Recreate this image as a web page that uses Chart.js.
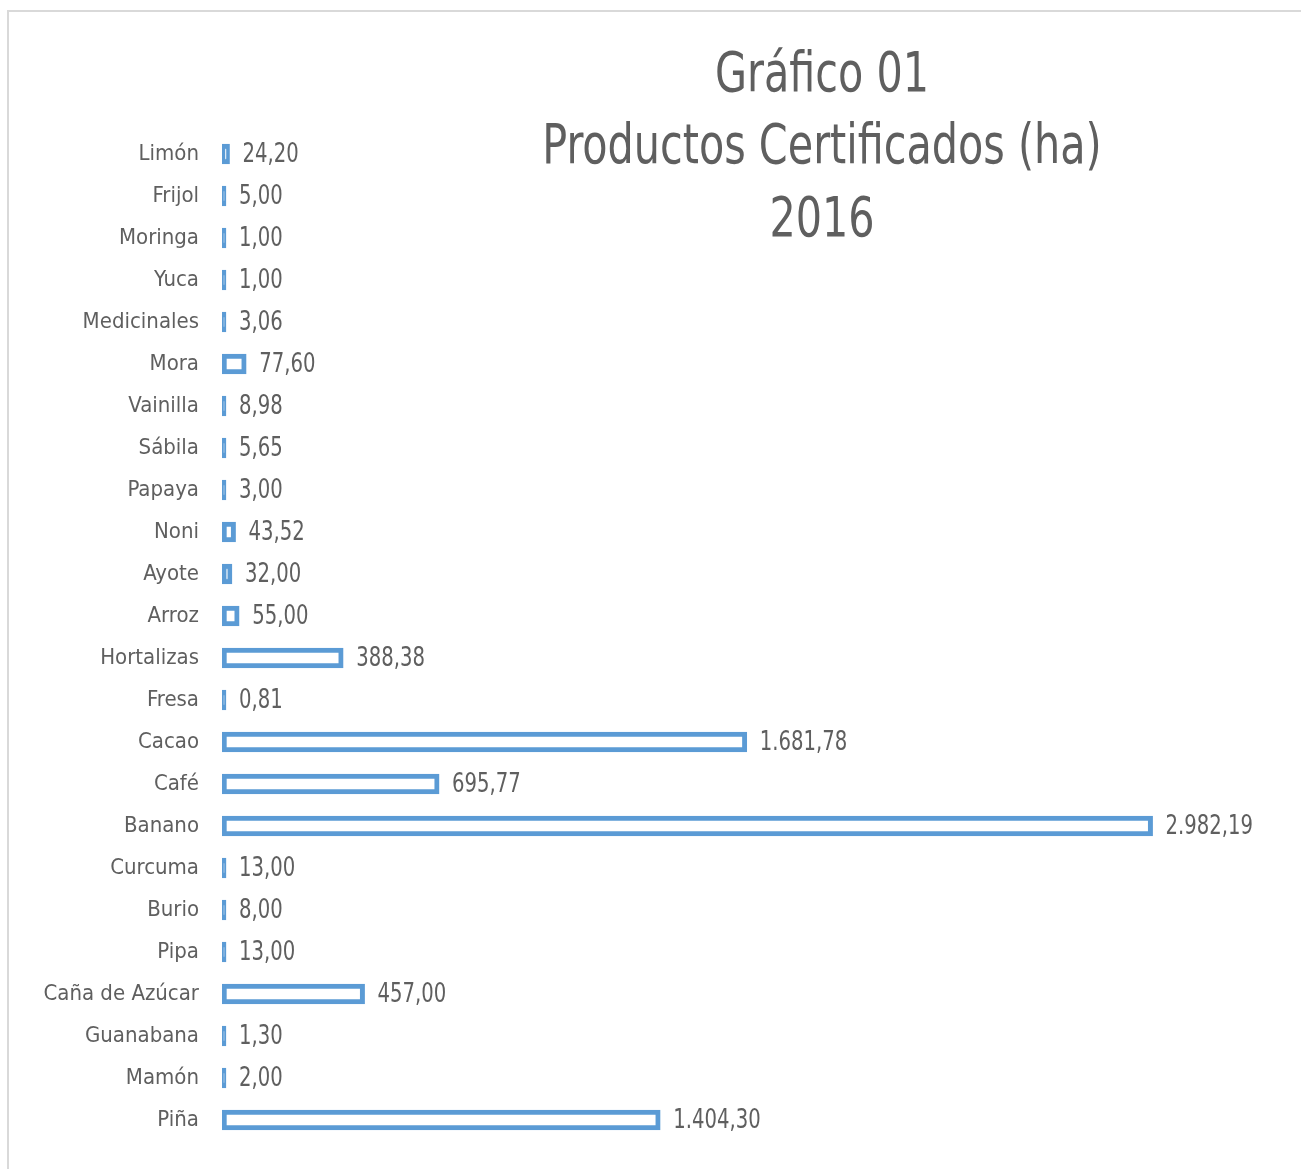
<!DOCTYPE html>
<html>
<head>
<meta charset="utf-8">
<script src="https://cdn.jsdelivr.net/npm/chart.js@4/dist/chart.umd.min.js"></script>
<style>
  html, body { margin: 0; padding: 0; background: #fff; overflow: hidden; }
  #wrap { position: relative; width: 1301px; height: 1169px; }
  #frame { position: absolute; left: 7px; top: 10px; width: 1400px; height: 1300px; border: 2px solid #d9d9d9; box-sizing: border-box; }
  canvas { position: absolute; left: 0; top: 0; }
</style>
</head>
<body>
<div id="wrap">
  <div id="frame"></div>
  <canvas id="barChart" width="1301" height="1169"></canvas>
</div>
<script>
const titleLines = ['Gráfico 01', 'Productos Certificados (ha)', '2016'];

const products = ['Limón', 'Frijol', 'Moringa', 'Yuca', 'Medicinales', 'Mora', 'Vainilla', 'Sábila',
  'Papaya', 'Noni', 'Ayote', 'Arroz', 'Hortalizas', 'Fresa', 'Cacao', 'Café', 'Banano', 'Curcuma',
  'Burio', 'Pipa', 'Caña de Azúcar', 'Guanabana', 'Mamón', 'Piña'];

const hectares = [24.20, 5.00, 1.00, 1.00, 3.06, 77.60, 8.98, 5.65, 3.00, 43.52, 32.00, 55.00,
  388.38, 0.81, 1681.78, 695.77, 2982.19, 13.00, 8.00, 13.00, 457.00, 1.30, 2.00, 1404.30];

const FONT = "'DejaVu Sans Condensed', 'DejaVu Sans', sans-serif";
const GREY = '#5f5f5f';
const BLUE = '#5B9BD5';
const SQUEEZE = 0.84; // text in the original is tall and narrow

// 1.234,56 style
function fmt(v) {
  const parts = v.toFixed(2).split('.');
  return parts[0].replace(/\B(?=(\d{3})+(?!\d))/g, '.') + ',' + parts[1];
}

// value labels at the end of each bar
const valueLabels = {
  id: 'valueLabels',
  afterDatasetsDraw(chart) {
    const ctx = chart.ctx;
    const meta = chart.getDatasetMeta(0);
    ctx.save();
    ctx.font = '26px ' + FONT;
    ctx.fillStyle = GREY;
    ctx.textAlign = 'left';
    ctx.textBaseline = 'middle';
    meta.data.forEach((bar, i) => {
      ctx.save();
      ctx.translate(bar.x + 13, bar.y + 1);
      ctx.scale(SQUEEZE, 1);
      ctx.fillText(fmt(hectares[i]), 0, 0);
      ctx.restore();
    });
    ctx.restore();
  }
};

// title sits over the chart area on the right
const floatingTitle = {
  id: 'floatingTitle',
  afterDraw(chart) {
    const ctx = chart.ctx;
    ctx.save();
    ctx.font = '56px ' + FONT;
    ctx.fillStyle = GREY;
    ctx.textAlign = 'center';
    ctx.textBaseline = 'middle';
    titleLines.forEach((t, i) => {
      ctx.save();
      ctx.translate(822, 76 + i * 72.5);
      ctx.scale(0.82, 1);
      ctx.fillText(t, 0, 0);
      ctx.restore();
    });
    ctx.restore();
  }
};

new Chart(document.getElementById('barChart').getContext('2d'), {
  type: 'bar',
  data: {
    labels: products,
    datasets: [{
      data: hectares,
      // the thinnest bars are just a solid stub of outline
      backgroundColor: (c) => (c.raw < 15 ? BLUE : '#ffffff'),
      borderColor: BLUE,
      borderWidth: 5,
      borderSkipped: false,
      barThickness: 20,
      minBarLength: 4
    }]
  },
  options: {
    indexAxis: 'y',
    responsive: false,
    animation: false,
    layout: { padding: { left: 0, right: 18, top: 133, bottom: 28 } },
    plugins: {
      legend: { display: false },
      tooltip: { enabled: false }
    },
    scales: {
      x: { display: false, min: 0, max: 3400 },
      y: {
        afterFit(scale) {
          scale.width = 222;
          // tick padding otherwise gets added to the bottom inset
          scale.paddingTop = 0;
          scale.paddingBottom = 0;
        },
        grid: { display: false, drawTicks: false },
        border: { display: false },
        ticks: { color: GREY, padding: 23, font: { family: FONT, size: 22 } }
      }
    }
  },
  plugins: [valueLabels, floatingTitle]
});
</script>
</body>
</html>
